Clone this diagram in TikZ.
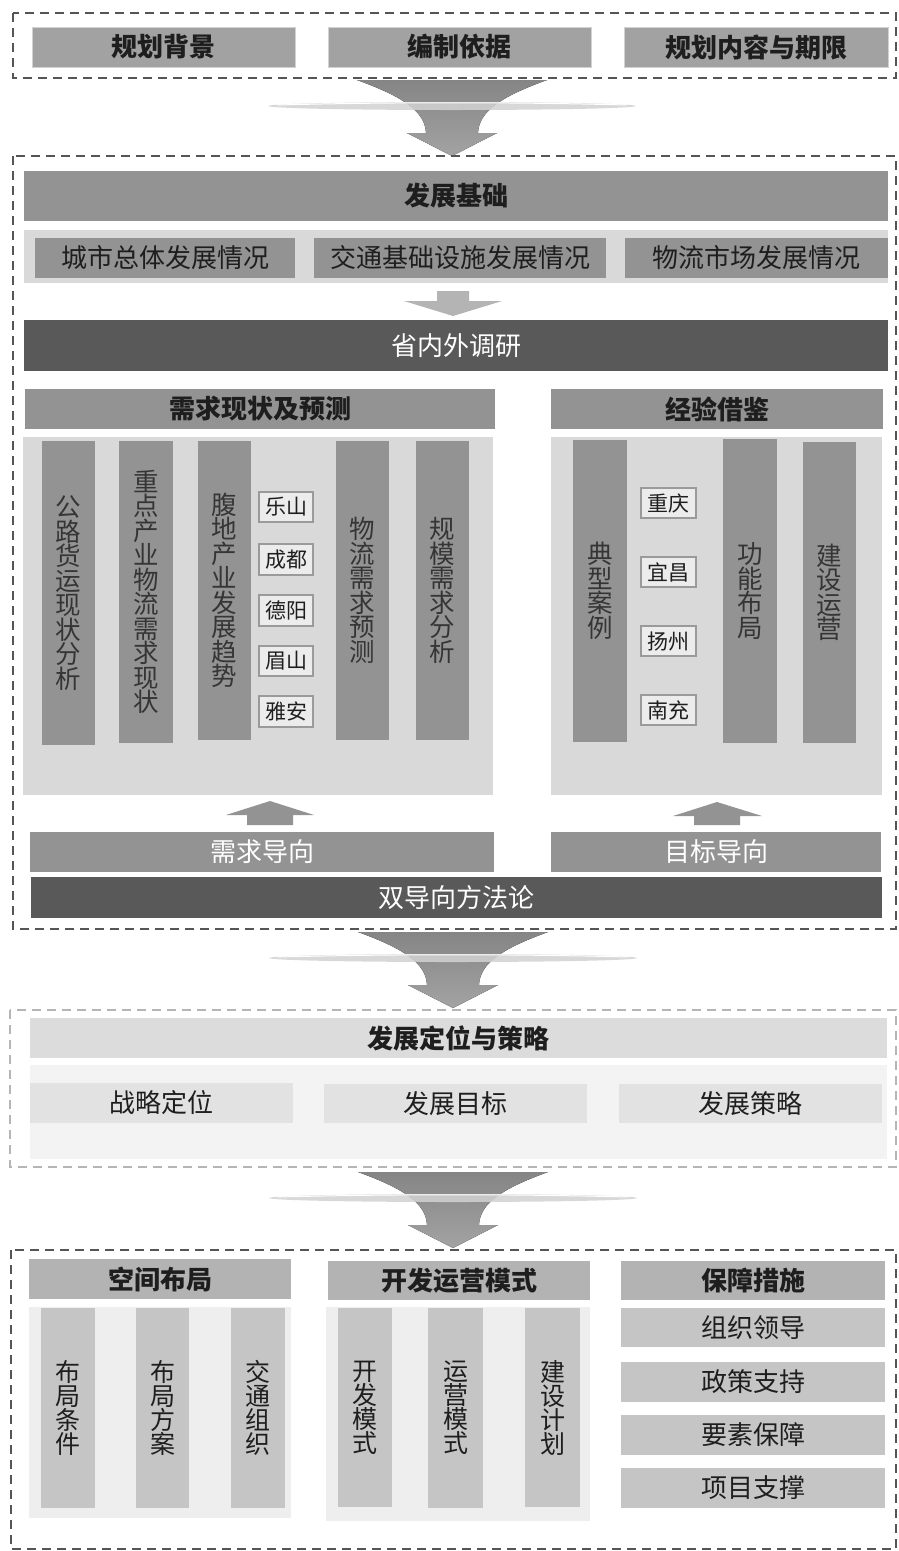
\documentclass[tikz,border=0pt]{standalone}
\usepackage{fontspec}
\setmainfont{Noto Sans CJK SC}
\definecolor{barg}{HTML}{939393}
\definecolor{topg}{HTML}{A2A2A2}
\definecolor{darkg}{HTML}{595959}
\definecolor{panelg}{HTML}{D9D9D9}
\definecolor{txt}{HTML}{1E1E1E}
\definecolor{dashc}{HTML}{555555}
\definecolor{dashl}{HTML}{B5B5B5}
\definecolor{cityf}{HTML}{ECECEC}
\definecolor{cityd}{HTML}{9A9A9A}
\definecolor{fun1}{HTML}{858585}
\definecolor{fun2}{HTML}{A3A3A3}
\definecolor{ringc}{HTML}{D2D2D2}
\definecolor{smallar}{HTML}{B4B4B4}
\definecolor{sthdr}{HTML}{DCDCDC}
\definecolor{stpan}{HTML}{F3F3F3}
\definecolor{stbox}{HTML}{E2E2E2}
\definecolor{bhdr}{HTML}{B3B3B3}
\definecolor{bpan}{HTML}{EEEEEE}
\definecolor{bbar}{HTML}{C5C5C5}
\tikzset{
  base/.style={anchor=north west, inner sep=0pt, outer sep=0pt, text=txt, align=center,
    font=\fontsize{26}{26}\selectfont},
  topb/.style={base, fill=topg, draw=ringc, line width=1pt, font=\bfseries\fontsize{26}{26}\selectfont},
  hdr/.style={base, fill=barg, font=\bfseries\fontsize{26}{26}\selectfont},
  midb/.style={base, fill=barg},
  darkb/.style={base, fill=darkg, text=white},
  whiteb/.style={base, fill=barg, text=white},
  panel/.style={base, fill=panelg},
  vbar/.style={base, fill=barg, text=txt!90, font=\fontsize{25.5}{24.5}\selectfont},
  city/.style={base, fill=cityf, draw=cityd, line width=2pt, font=\fontsize{21}{21}\selectfont},
  sthd/.style={base, fill=sthdr, font=\bfseries\fontsize{26}{26}\selectfont},
  stpn/.style={base, fill=stpan},
  stbx/.style={base, fill=stbox, font=\fontsize{26}{26}\selectfont},
  bhd/.style={base, fill=bhdr, font=\bfseries\fontsize{26}{26}\selectfont},
  bpn/.style={base, fill=bpan},
  bvb/.style={base, fill=bbar, font=\fontsize{25}{24}\selectfont},
  bbx/.style={base, fill=bbar, font=\fontsize{26}{26}\selectfont},
  dbox/.style={draw=dashc, line width=1.6pt, dash pattern=on 9pt off 6pt},
  dboxl/.style={draw=dashl, line width=1.6pt, dash pattern=on 9pt off 6pt},
}
\newcommand\bx[7]{\node[#6, minimum width={#4-#2}, minimum height={#5-#3}] (#1) at (#2,#3) {#7};}
\newcommand\funnel[2]{%
  \fill[top color=fun1, bottom color=fun2]
    ({#1-95},#2) -- ({#1+95},#2)
    .. controls ({#1+45},{#2+18}) and ({#1+27},{#2+33}) .. ({#1+26},{#2+53})
    -- ({#1+45},{#2+53}) -- (#1,{#2+76}) -- ({#1-45},{#2+53}) -- ({#1-26},{#2+53})
    .. controls ({#1-27},{#2+33}) and ({#1-45},{#2+18}) .. ({#1-95},#2) -- cycle;
  \fill[ringc, opacity=.85] (#1,{#2+26}) ellipse [x radius=184, y radius=4];
  \draw[white, line width=1pt] ({#1-175},{#2+25}) .. controls ({#1-60},{#2+22}) and ({#1+60},{#2+22}) .. ({#1+175},{#2+25});
}
\begin{document}
\begin{tikzpicture}[x=1pt, y=-1pt]
\fill[white] (0,0) rectangle (898,1551);
\useasboundingbox (0,0) rectangle (898,1551);

% ---------- section 1
\draw[dbox] (13,13) rectangle (896,78);
\bx{t1}{32}{27}{295}{67}{topb}{规划背景}
\bx{t2}{328}{27}{591}{67}{topb}{编制依据}
\bx{t3}{624}{27}{888}{67}{topb}{规划内容与期限}

\funnel{452}{80}

% ---------- section 2
\draw[dbox] (13,156) rectangle (896,929);
\bx{fzjc}{24}{171}{888}{221}{hdr}{发展基础}
\bx{band}{24}{230}{888}{283}{panel}{}
\bx{b1}{35}{238}{295}{278}{midb}{城市总体发展情况}
\bx{b2}{314}{238}{606}{278}{midb}{交通基础设施发展情况}
\bx{b3}{625}{238}{888}{278}{midb}{物流市场发展情况}
\fill[smallar] (437,291) -- (469,291) -- (469,301) -- (502,301) -- (453,316) -- (404,301) -- (437,301) -- cycle;
\bx{snw}{24}{320}{888}{371}{darkb}{省内外调研}

\bx{h1}{25}{389}{495}{429}{hdr}{需求现状及预测}
\bx{h2}{551}{389}{883}{429}{hdr}{经验借鉴}
\bx{p1}{23}{437}{493}{795}{panel}{}
\bx{p2}{551}{437}{882}{795}{panel}{}

\bx{v1}{42}{441}{95}{745}{vbar}{公\\路\\货\\运\\现\\状\\分\\析}
\bx{v2}{119}{441}{173}{743}{vbar}{重\\点\\产\\业\\物\\流\\需\\求\\现\\状}
\bx{v3}{198}{441}{251}{740}{vbar}{腹\\地\\产\\业\\发\\展\\趋\\势}
\bx{v4}{336}{441}{389}{740}{vbar}{物\\流\\需\\求\\预\\测}
\bx{v5}{416}{441}{469}{740}{vbar}{规\\模\\需\\求\\分\\析}
\bx{c1}{259}{492}{313}{522}{city}{乐山}
\bx{c2}{259}{544}{313}{575}{city}{成都}
\bx{c3}{259}{595}{313}{626}{city}{德阳}
\bx{c4}{259}{646}{313}{676}{city}{眉山}
\bx{c5}{259}{696}{313}{727}{city}{雅安}

\bx{r1}{573}{440}{627}{742}{vbar}{典\\型\\案\\例}
\bx{r2}{723}{439}{777}{743}{vbar}{功\\能\\布\\局}
\bx{r3}{803}{442}{856}{743}{vbar}{建\\设\\运\\营}
\bx{d1}{641}{488}{696}{518}{city}{重庆}
\bx{d2}{641}{557}{696}{587}{city}{宜昌}
\bx{d3}{641}{626}{696}{656}{city}{扬州}
\bx{d4}{641}{695}{696}{725}{city}{南充}

\fill[barg] (247,825) -- (247,815) -- (226,815) -- (270,801) -- (314,815) -- (293,815) -- (293,825) -- cycle;
\fill[barg] (694,825) -- (694,816) -- (673,816) -- (717,802) -- (762,816) -- (740,816) -- (740,825) -- cycle;
\bx{xq}{30}{832}{494}{872}{whiteb}{需求导向}
\bx{mb}{551}{832}{881}{872}{whiteb}{目标导向}
\bx{sdx}{31}{877}{882}{918}{darkb}{双导向方法论}

\funnel{453}{932}

% ---------- section 3
\draw[dboxl] (10,1010) rectangle (896,1167);
\bx{dw}{30}{1018}{887}{1058}{sthd}{发展定位与策略}
\bx{dwp}{30}{1065}{887}{1159}{stpn}{}
\bx{s1}{30}{1083}{293}{1123}{stbx}{战略定位}
\bx{s2}{324}{1084}{587}{1123}{stbx}{发展目标}
\bx{s3}{619}{1084}{882}{1123}{stbx}{发展策略}

\funnel{453}{1172}

% ---------- section 4
\draw[dbox] (11,1250) rectangle (896,1549);
\bx{k1}{29}{1259}{291}{1299}{bhd}{空间布局}
\bx{k2}{328}{1261}{590}{1300}{bhd}{开发运营模式}
\bx{k3}{621}{1261}{885}{1300}{bhd}{保障措施}
\bx{kp1}{29}{1307}{291}{1518}{bpn}{}
\bx{kp2}{326}{1307}{590}{1521}{bpn}{}
\bx{u1}{41}{1308}{95}{1508}{bvb}{布\\局\\条\\件}
\bx{u2}{136}{1308}{189}{1508}{bvb}{布\\局\\方\\案}
\bx{u3}{231}{1308}{285}{1508}{bvb}{交\\通\\组\\织}
\bx{u4}{338}{1308}{392}{1507}{bvb}{开\\发\\模\\式}
\bx{u5}{428}{1308}{483}{1508}{bvb}{运\\营\\模\\式}
\bx{u6}{525}{1308}{580}{1507}{bvb}{建\\设\\计\\划}
\bx{g1}{621}{1308}{885}{1347}{bbx}{组织领导}
\bx{g2}{621}{1362}{885}{1402}{bbx}{政策支持}
\bx{g3}{621}{1415}{885}{1455}{bbx}{要素保障}
\bx{g4}{621}{1468}{885}{1508}{bbx}{项目支撑}
\end{tikzpicture}
\end{document}
